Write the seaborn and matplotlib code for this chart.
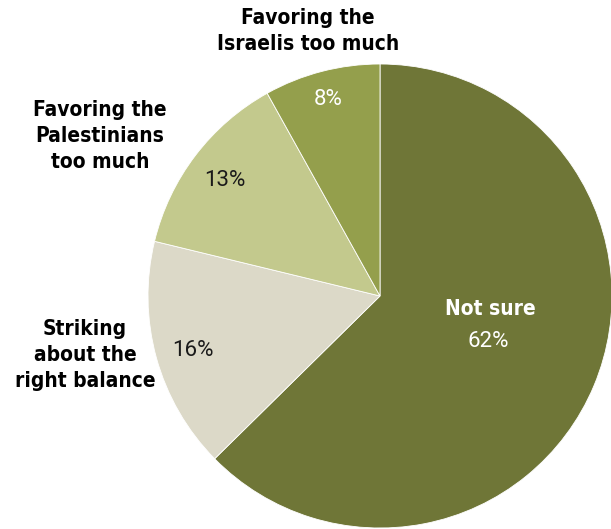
import matplotlib
matplotlib.use("Agg")
import matplotlib.pyplot as plt
import seaborn as sns

categories = ["Not sure", "Striking\nabout the\nright balance",
              "Favoring the\nPalestinians\ntoo much", "Favoring the\nIsraelis too much"]
values = [62, 16, 13, 8]
colors = ["#6f7637", "#dcd9c8", "#c3c98d", "#949f4c"]
pct_colors = ["white", "#1a1a1a", "#1a1a1a", "white"]

sns.set_theme(style="white")
plt.rcParams["font.family"] = ["DejaVu Sans"]

fig = plt.figure(figsize=(6.11, 5.29), dpi=100)
ax = fig.add_axes([148 / 611, 1 / 529, 464 / 611, 464 / 529])
palette = sns.color_palette(colors)

ax.pie(values, colors=palette, startangle=90, counterclock=False, radius=1,
       wedgeprops=dict(edgecolor="white", linewidth=0.6))
ax.set_xlim(-1, 1)
ax.set_ylim(-1, 1)
ax.set_aspect("equal")
ax.axis("off")

# category labels
cat_pos = [(0.474, -0.056), (-1.272, -0.254), (-1.207, 0.69), (-0.31, 1.142)]
cat_colors = ["white", "black", "black", "black"]
for text, (x, y), c in zip(categories, cat_pos, cat_colors):
    ax.text(x, y, text, ha="center", va="center", fontsize=15, fontweight="bold",
            fontstretch="condensed", color=c, linespacing=1.4, clip_on=False)

# percentage labels
pct_pos = [(0.466, -0.198), (-0.806, -0.237), (-0.668, 0.496), (-0.224, 0.849)]
for v, (x, y), c in zip(values, pct_pos, pct_colors):
    ax.text(x, y, f"{v}%", ha="center", va="center", fontsize=16,
            family=["Roboto", "DejaVu Sans"], fontweight="normal", color=c, clip_on=False)

fig.savefig("out.png", dpi=100)
